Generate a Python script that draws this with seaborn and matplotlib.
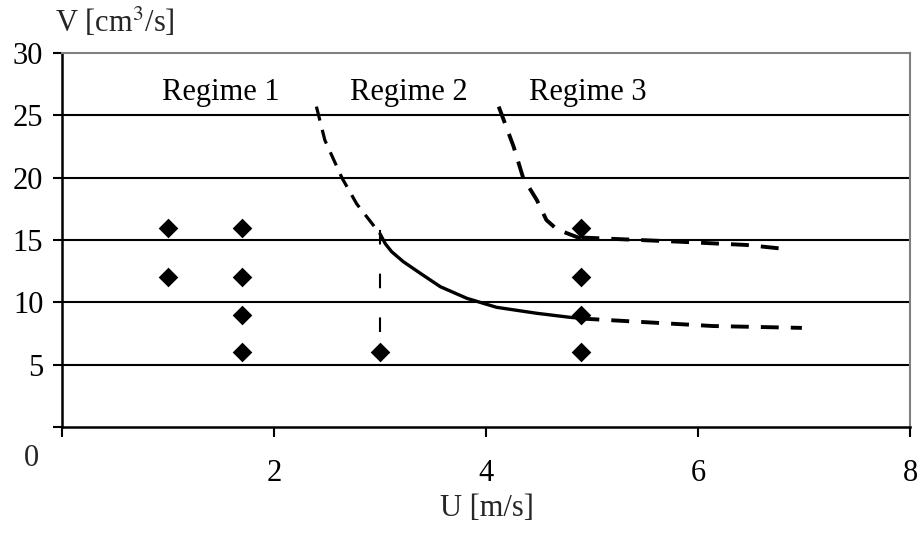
import matplotlib
matplotlib.use("Agg")
import matplotlib.pyplot as plt
import seaborn as sns
import pandas as pd

# --- data ---
pts_u = [1.0, 1.0, 1.7, 1.7, 1.7, 1.7, 3.0, 4.9, 4.9, 4.9, 4.9]
pts_v = [16, 12, 16, 12, 9, 6, 6, 16, 12, 9, 6]

low_top_u = [2.40, 2.48, 2.64, 2.78, 3.00]
low_top_v = [25.7, 23.0, 20.0, 17.9, 15.5]
low_mid_u = [3.00, 3.05, 3.11, 3.22, 3.38, 3.57, 3.82, 4.10, 4.48, 4.79, 4.90]
low_mid_v = [15.5, 14.7, 14.06, 13.26, 12.33, 11.25, 10.32, 9.60, 9.12, 8.80, 8.72]
low_end_u = [4.90, 5.52, 6.14, 6.98]
low_end_v = [8.7, 8.4, 8.1, 7.95]

up_top_u = [4.12, 4.26, 4.35, 4.48, 4.57, 4.67, 4.90]
up_top_v = [25.7, 22.5, 20.0, 18.2, 16.6, 15.85, 15.1]
up_end_u = [4.90, 5.83, 6.46, 6.80]
up_end_v = [15.2, 14.86, 14.6, 14.3]

vert_u = [3.0, 3.0]
vert_v = [7.6, 16.5]

regime_labels = ["Regime 1", "Regime 2", "Regime 3"]
regime_u = [1.50, 3.27, 4.96]
regime_v = [26.8, 26.8, 26.8]

x_ticks = [0, 2, 4, 6, 8]
y_ticks = [0, 5, 10, 15, 20, 25, 30]

FS = 22

sns.set_theme(style="white")
plt.rcParams["font.family"] = ["Liberation Serif", "DejaVu Serif"]
plt.rcParams["mathtext.fontset"] = "stix"

fig = plt.figure(figsize=(9.21, 5.33), dpi=100)
ax = fig.add_axes([62 / 921, 1 - 427 / 533, (910 - 62) / 921, (427 - 53) / 533])

# grid lines
for yv in y_ticks[1:-1]:
    ax.axhline(yv, color="black", lw=1.5, zorder=1)

def line(u, v, **kw):
    df = pd.DataFrame({"u": u, "v": v})
    sns.lineplot(data=df, x="u", y="v", sort=False, estimator=None, ax=ax,
                 color="black", zorder=3, **kw)

line(low_top_u, low_top_v, lw=2.3, dashes=(4.5, 3))
line(low_mid_u, low_mid_v, lw=2.4)
line(low_end_u, low_end_v, lw=2.8, dashes=(4.6, 3.1))
line(up_top_u, up_top_v, lw=2.8, dashes=(4.5, 3))
line(up_end_u, up_end_v, lw=2.8, dashes=(4.6, 3.1))
line(vert_u, vert_v, lw=1.5, dashes=(7, 14))

sns.scatterplot(x=pts_u, y=pts_v, marker="D", s=100, color="black",
                edgecolor="black", linewidth=0, ax=ax, zorder=4)

for t, u, v in zip(regime_labels, regime_u, regime_v):
    ax.text(u, v, t, ha="center", va="center", fontsize=FS, color="black")

ax.set_xlim(0, 8)
ax.set_ylim(0, 30)
ax.set_xticks(x_ticks)
ax.set_xticklabels([""] + [str(t) for t in x_ticks[1:]])
ax.set_yticks(y_ticks)
ax.set_yticklabels([""] + [str(t) for t in y_ticks[1:]])
ax.tick_params(axis="x", direction="out", length=7, width=1.5, pad=16,
               labelsize=FS, colors="black", bottom=True)
ax.tick_params(axis="y", direction="out", length=6.5, width=1.5, pad=7,
               labelsize=FS, colors="black", left=True)
ax.set_xlabel("")
ax.set_ylabel("")

for side in ["left", "bottom"]:
    ax.spines[side].set_color("black")
    ax.spines[side].set_linewidth(1.8)
for side in ["top", "right"]:
    ax.spines[side].set_color("#808080")
    ax.spines[side].set_linewidth(1.5)

ax.annotate("0", xy=(0, 0), xycoords=("axes fraction", "data"),
            xytext=(-31, -31), textcoords="offset pixels",
            ha="center", va="center", fontsize=FS)

fig.text(55 / 921, 1 - 22 / 533, "V [cm$^3$/s]", ha="left", va="center", fontsize=FS)
fig.text(487 / 921, 1 - 509 / 533, "U [m/s]", ha="center", va="center", fontsize=FS)

fig.savefig("out.png", dpi=100)
